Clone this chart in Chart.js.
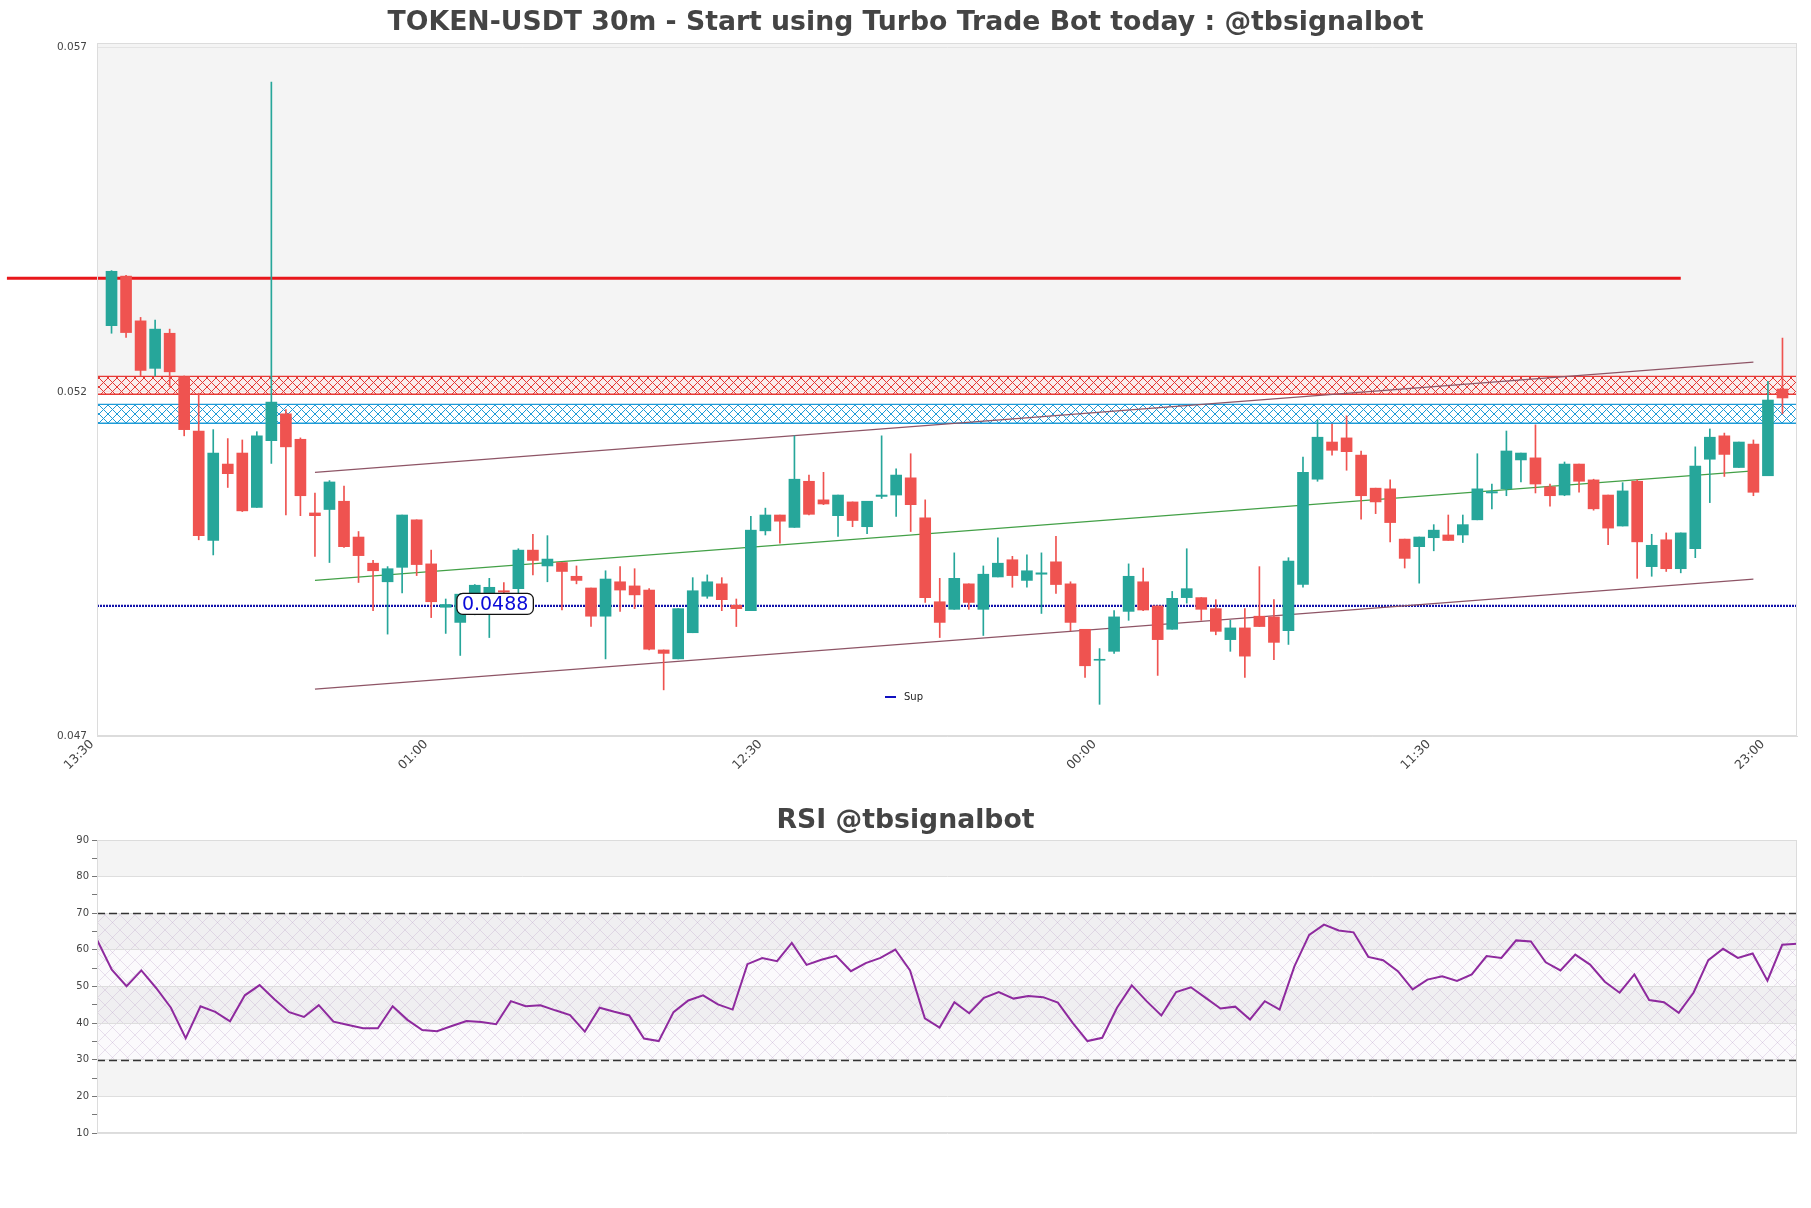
<!DOCTYPE html>
<html>
<head>
<meta charset="utf-8">
<script src="https://cdn.jsdelivr.net/npm/chart.js@4.4.1/dist/chart.umd.min.js"></script>
<style>
  body { margin: 0; background: #fff; }
  #wrap { position: relative; width: 1811px; height: 1208px; }
  #priceChart { position: absolute; left: 0; top: 0; }
  #rsiChart { position: absolute; left: 0; top: 780px; }
</style>
</head>
<body>
<div id="wrap">
  <canvas id="priceChart" width="1811" height="780"></canvas>
  <canvas id="rsiChart" width="1811" height="428"></canvas>
</div>
<script>
// x positions are candle indexes, 0 = 13:30 (one bar before the first candle)
const tickIndex = [0, 23, 46, 69, 92, 115];
const tickLabels = ['13:30', '01:00', '12:30', '00:00', '11:30', '23:00'];
const priceTicks = [0.047, 0.052, 0.057];

const opens = [
  0.05296, 0.05368, 0.05303, 0.05234, 0.05285, 0.05222, 0.05143, 0.04984, 0.05095, 0.05111,
  0.05032, 0.05129, 0.05168, 0.05131, 0.05024, 0.05029, 0.05041, 0.04989, 0.04951, 0.04924,
  0.04945, 0.05014, 0.04950, 0.04887, 0.04865, 0.04905, 0.04907, 0.04911, 0.04914, 0.04970,
  0.04947, 0.04952, 0.04932, 0.04915, 0.04874, 0.04924, 0.04918, 0.04912, 0.04825, 0.04812,
  0.04850, 0.04903, 0.04921, 0.04890, 0.04882, 0.04998, 0.05021, 0.05003, 0.05070, 0.05043,
  0.05020, 0.05040, 0.05004, 0.05048, 0.05050, 0.05075, 0.05017, 0.04895, 0.04884, 0.04921,
  0.04884, 0.04931, 0.04956, 0.04926, 0.04935, 0.04953, 0.04921, 0.04855, 0.04810, 0.04823,
  0.04881, 0.04924, 0.04889, 0.04855, 0.04901, 0.04901, 0.04885, 0.04840, 0.04857, 0.04874,
  0.04873, 0.04853, 0.04920, 0.05073, 0.05127, 0.05133, 0.05108, 0.05060, 0.05059, 0.04986,
  0.04975, 0.04988, 0.04992, 0.04992, 0.05014, 0.05053, 0.05059, 0.05101, 0.05104, 0.05062,
  0.05050, 0.05095, 0.05072, 0.05050, 0.05005, 0.05070, 0.04946, 0.04985, 0.04943, 0.04972,
  0.05102, 0.05136, 0.05090, 0.05124, 0.05078, 0.05204
];
const highs = [
  0.05376, 0.05369, 0.05308, 0.05304, 0.05291, 0.05223, 0.05198, 0.05145, 0.05132, 0.05130,
  0.05142, 0.05650, 0.05174, 0.05133, 0.05053, 0.05071, 0.05063, 0.04997, 0.04955, 0.04946,
  0.05021, 0.05014, 0.04970, 0.04899, 0.04907, 0.04920, 0.04929, 0.04923, 0.04972, 0.04993,
  0.04991, 0.04952, 0.04947, 0.04915, 0.04940, 0.04946, 0.04943, 0.04914, 0.04825, 0.04885,
  0.04930, 0.04934, 0.04930, 0.04899, 0.05019, 0.05031, 0.05021, 0.05136, 0.05079, 0.05083,
  0.05050, 0.05040, 0.05041, 0.05136, 0.05088, 0.05110, 0.05043, 0.04929, 0.04966, 0.04921,
  0.04947, 0.04988, 0.04961, 0.04963, 0.04966, 0.04990, 0.04924, 0.04855, 0.04827, 0.04882,
  0.04950, 0.04944, 0.04889, 0.04910, 0.04972, 0.04901, 0.04898, 0.04868, 0.04885, 0.04946,
  0.04898, 0.04959, 0.05105, 0.05159, 0.05153, 0.05165, 0.05114, 0.05060, 0.05072, 0.04986,
  0.04989, 0.05007, 0.05021, 0.05021, 0.05110, 0.05066, 0.05143, 0.05111, 0.05152, 0.05066,
  0.05098, 0.05095, 0.05073, 0.05050, 0.05068, 0.05072, 0.04993, 0.04995, 0.04995, 0.05120,
  0.05146, 0.05140, 0.05127, 0.05130, 0.05215, 0.05278
];
const lows = [
  0.05285, 0.05279, 0.05223, 0.05223, 0.05207, 0.05136, 0.04985, 0.04963, 0.05061, 0.05026,
  0.05032, 0.05096, 0.05021, 0.05020, 0.04961, 0.04952, 0.04974, 0.04923, 0.04882, 0.04848,
  0.04908, 0.04933, 0.04872, 0.04849, 0.04817, 0.04876, 0.04843, 0.04905, 0.04907, 0.04934,
  0.04924, 0.04883, 0.04921, 0.04859, 0.04812, 0.04881, 0.04885, 0.04825, 0.04767, 0.04812,
  0.04850, 0.04900, 0.04882, 0.04859, 0.04882, 0.04992, 0.04980, 0.05003, 0.05021, 0.05036,
  0.04990, 0.05004, 0.04994, 0.05045, 0.05019, 0.04997, 0.04894, 0.04843, 0.04884, 0.04884,
  0.04846, 0.04931, 0.04916, 0.04916, 0.04878, 0.04907, 0.04853, 0.04785, 0.04746, 0.04820,
  0.04868, 0.04882, 0.04788, 0.04855, 0.04893, 0.04868, 0.04847, 0.04823, 0.04785, 0.04859,
  0.04811, 0.04833, 0.04916, 0.05070, 0.05108, 0.05086, 0.05015, 0.05023, 0.04982, 0.04944,
  0.04922, 0.04969, 0.04984, 0.04981, 0.05014, 0.05030, 0.05049, 0.05069, 0.05053, 0.05034,
  0.05049, 0.05054, 0.05028, 0.04978, 0.05005, 0.04929, 0.04932, 0.04939, 0.04937, 0.04959,
  0.05039, 0.05077, 0.05090, 0.05049, 0.05078, 0.05168
];
const closes = [
  0.05375, 0.05286, 0.05231, 0.05291, 0.05229, 0.05145, 0.04991, 0.05111, 0.05081, 0.05027,
  0.05136, 0.05185, 0.05120, 0.05049, 0.05020, 0.05069, 0.04975, 0.04962, 0.04940, 0.04943,
  0.05021, 0.04949, 0.04895, 0.04891, 0.04906, 0.04919, 0.04916, 0.04909, 0.04970, 0.04955,
  0.04957, 0.04939, 0.04926, 0.04874, 0.04928, 0.04912, 0.04905, 0.04826, 0.04820, 0.04885,
  0.04911, 0.04924, 0.04898, 0.04885, 0.04999, 0.05021, 0.05012, 0.05073, 0.05022, 0.05037,
  0.05050, 0.05013, 0.05041, 0.05050, 0.05079, 0.05036, 0.04901, 0.04865, 0.04929, 0.04894,
  0.04935, 0.04951, 0.04933, 0.04940, 0.04937, 0.04920, 0.04865, 0.04802, 0.04811, 0.04873,
  0.04932, 0.04883, 0.04840, 0.04900, 0.04914, 0.04884, 0.04852, 0.04857, 0.04816, 0.04859,
  0.04836, 0.04954, 0.05083, 0.05134, 0.05115, 0.05113, 0.05049, 0.05040, 0.05010, 0.04958,
  0.04989, 0.04999, 0.04984, 0.05007, 0.05059, 0.05055, 0.05114, 0.05111, 0.05066, 0.05049,
  0.05095, 0.05070, 0.05030, 0.05002, 0.05056, 0.04982, 0.04977, 0.04943, 0.04995, 0.05092,
  0.05134, 0.05109, 0.05127, 0.05054, 0.05188, 0.05191
];

const rsi = [
  62.8, 54.6, 50.1, 54.4, 49.6, 44.2, 35.9, 44.6, 43.1, 40.5,
  47.6, 50.4, 46.5, 43.0, 41.7, 44.9, 40.4, 39.5, 38.6, 38.6,
  44.6, 40.9, 38.1, 37.8, 39.2, 40.6, 40.3, 39.7, 46.0, 44.6,
  44.9, 43.5, 42.2, 37.7, 44.2, 43.1, 42.1, 35.8, 35.1, 43.0,
  46.2, 47.6, 45.1, 43.7, 56.1, 57.8, 56.9, 61.9, 55.9, 57.3,
  58.4, 54.2, 56.4, 57.8, 60.1, 54.4, 41.3, 38.8, 45.7, 42.7,
  46.9, 48.5, 46.7, 47.4, 47.1, 45.6, 40.1, 35.1, 36.0, 44.2,
  50.3, 46.0, 42.1, 48.5, 49.8, 46.9, 44.0, 44.5, 41.0, 46.0,
  43.7, 55.5, 64.1, 66.9, 65.3, 64.8, 58.1, 57.2, 54.2, 49.2,
  51.9, 52.8, 51.5, 53.3, 58.3, 57.8, 62.6, 62.3, 56.6, 54.4,
  58.7, 56.0, 51.3, 48.3, 53.3, 46.3, 45.7, 42.8, 48.3, 57.2,
  60.3, 57.8, 59.0, 51.6, 61.4, 61.7
];

const resistance = 0.05365;
const resistanceSpan = [-6.2, 109];
const redZone = [0.051964, 0.052225];
const blueZone = [0.051543, 0.051818];
const supLevel = 0.04889;
const supText = '0.0488';
const channelSpan = [15, 114];
const channelUpper = [0.05083, 0.05243];
const channelMid = [0.04926, 0.05085];
const channelLower = [0.04768, 0.04928];
const rsiLevels = [70, 30];

const UP = '#26a69a';
const DOWN = '#ef5350';
const FONT = 'DejaVu Sans';

function hatch(color, size, bg, width) {
  const c = document.createElement('canvas');
  c.width = size; c.height = size;
  const g = c.getContext('2d');
  if (bg) { g.fillStyle = bg; g.fillRect(0, 0, size, size); }
  g.strokeStyle = color;
  g.lineWidth = width || 1;
  g.beginPath();
  g.moveTo(0, 0); g.lineTo(size, size);
  g.moveTo(size, 0); g.lineTo(0, size);
  g.stroke();
  return g.createPattern(c, 'repeat');
}

// alternate grey / white bands between major ticks
function drawBands(chart, majors, grey) {
  const {ctx, chartArea: a, scales: {y}} = chart;
  const vals = majors.slice().sort((p, q) => q - p);
  ctx.save();
  ctx.fillStyle = grey;
  for (let i = 0; i < vals.length - 1; i += 2) {
    const top = i === 0 ? a.top : y.getPixelForValue(vals[i]);
    const bot = y.getPixelForValue(vals[i + 1]);
    ctx.fillRect(a.left, top, a.width, bot - top);
  }
  ctx.restore();
}

function drawFrame(chart) {
  const {ctx, chartArea: a} = chart;
  ctx.save();
  ctx.strokeStyle = '#dcdcdc';
  ctx.lineWidth = 1;
  ctx.strokeRect(Math.round(a.left) + 0.5, Math.round(a.top) + 0.5, Math.round(a.width) - 1, Math.round(a.height) - 1);
  ctx.restore();
}

const pricePlugin = {
  id: 'priceDecor',
  beforeDraw(chart) {
    drawBands(chart, priceTicks, '#f4f4f4');
  },
  beforeDatasetsDraw(chart) {
    const {ctx, chartArea: a, scales: {y}} = chart;
    [[redZone, '#e53935', 'rgba(255,228,228,0.45)'], [blueZone, '#1e9bd7', null]].forEach(([z, col, bg]) => {
      const top = y.getPixelForValue(z[1]);
      const bot = y.getPixelForValue(z[0]);
      ctx.save();
      ctx.fillStyle = hatch(col, 9, bg, 1);
      ctx.fillRect(a.left, top, a.width, bot - top);
      ctx.strokeStyle = col;
      ctx.lineWidth = 1.3;
      ctx.beginPath();
      ctx.moveTo(a.left, top); ctx.lineTo(a.right, top);
      ctx.moveTo(a.left, bot); ctx.lineTo(a.right, bot);
      ctx.stroke();
      ctx.restore();
    });
  },
  afterDatasetsDraw(chart) {
    const {ctx, chartArea: a, scales: {x, y}} = chart;
    // level label
    ctx.save();
    ctx.font = '19px ' + FONT;
    const tw = ctx.measureText(supText).width;
    const cx = x.getPixelForValue(27.4);
    const cy = y.getPixelForValue(supLevel);
    const w = tw + 10, h = 21;
    ctx.beginPath();
    ctx.roundRect(cx - w / 2, cy - h / 2 - 2, w, h, 6);
    ctx.fillStyle = '#fff';
    ctx.fill();
    ctx.strokeStyle = '#111';
    ctx.lineWidth = 1.3;
    ctx.stroke();
    ctx.fillStyle = '#0a0ad8';
    ctx.textAlign = 'center';
    ctx.textBaseline = 'middle';
    ctx.fillText(supText, cx, cy - 1);
    // legend
    const lx = a.left + 788, ly = a.bottom - 39;
    ctx.strokeStyle = '#1010c0';
    ctx.lineWidth = 2;
    ctx.beginPath(); ctx.moveTo(lx, ly); ctx.lineTo(lx + 11, ly); ctx.stroke();
    ctx.font = '10px ' + FONT;
    ctx.fillStyle = '#222';
    ctx.textAlign = 'left';
    ctx.fillText(chart.data.datasets[2].label, lx + 19, ly);
    ctx.restore();
  },
  afterDraw: drawFrame
};

const rsiPlugin = {
  id: 'rsiDecor',
  beforeDraw(chart) {
    drawBands(chart, [90, 80, 70, 60, 50, 40, 30, 20, 10], '#f4f4f4');
    const {ctx, chartArea: a, scales: {y}} = chart;
    const top = y.getPixelForValue(rsiLevels[0]);
    const bot = y.getPixelForValue(rsiLevels[1]);
    ctx.save();
    ctx.fillStyle = 'rgba(170,150,190,0.05)';
    ctx.fillRect(a.left, top, a.width, bot - top);
    ctx.fillStyle = hatch('rgba(185,160,200,0.4)', 15, null, 0.8);
    ctx.fillRect(a.left, top, a.width, bot - top);
    ctx.restore();
  },
  beforeDatasetsDraw(chart) {
    const {ctx, chartArea: a, scales: {y}} = chart;
    ctx.save();
    ctx.strokeStyle = '#333';
    ctx.lineWidth = 1.3;
    ctx.setLineDash([8, 4]);
    rsiLevels.forEach(v => {
      const py = Math.round(y.getPixelForValue(v)) + 0.5;
      ctx.beginPath(); ctx.moveTo(a.left, py); ctx.lineTo(a.right, py); ctx.stroke();
    });
    ctx.restore();
  },
  afterDraw: drawFrame
};

const idx = opens.map((o, i) => i + 1);
const bodies = idx.map((xi, i) => ({x: xi, y: [opens[i], closes[i]]}));
const wicks = idx.map((xi, i) => ({x: xi, y: [lows[i], highs[i]]}));
const candleColor = ctx => closes[ctx.dataIndex] >= opens[ctx.dataIndex] ? UP : DOWN;
const seg = (span, vals) => [{x: span[0], y: vals[0]}, {x: span[1], y: vals[1]}];

new Chart(document.getElementById('priceChart'), {
  type: 'bar',
  data: {
    datasets: [
      {label: 'body', data: bodies, backgroundColor: candleColor, barThickness: 11, minBarLength: 1,
       grouped: false, borderWidth: 0, order: 0},
      {label: 'wick', data: wicks, backgroundColor: candleColor, barThickness: 1, grouped: false,
       borderWidth: 0, order: 1},
      {type: 'line', label: 'Sup', data: seg([0, 117], [supLevel, supLevel]), borderColor: '#1212aa',
       borderWidth: 2.4, borderDash: [2, 1], pointRadius: 0, order: 3},
      {type: 'line', label: 'res', data: seg(resistanceSpan, [resistance, resistance]), borderColor: '#e8171b',
       borderWidth: 3, pointRadius: 0, clip: false, order: 3},
      {type: 'line', label: 'up', data: seg(channelSpan, channelUpper), borderColor: '#8e5566',
       borderWidth: 1.2, pointRadius: 0, order: 2},
      {type: 'line', label: 'mid', data: seg(channelSpan, channelMid), borderColor: '#43a047',
       borderWidth: 1.2, pointRadius: 0, order: 2},
      {type: 'line', label: 'low', data: seg(channelSpan, channelLower), borderColor: '#8e5566',
       borderWidth: 1.2, pointRadius: 0, order: 2}
    ]
  },
  options: {
    responsive: false,
    animation: false,
    layout: {padding: {left: 14, right: 14, top: 0, bottom: 0}},
    plugins: {
      legend: {display: false},
      tooltip: {enabled: false},
      title: {
        display: true,
        text: 'TOKEN-USDT 30m - Start using Turbo Trade Bot today : @tbsignalbot',
        color: '#444',
        font: {family: FONT, size: 26.7, weight: 'bold'},
        padding: {top: 7, bottom: 4}
      }
    },
    scales: {
      x: {
        type: 'linear',
        min: 0,
        max: 117,
        offset: false,
        grid: {display: false, drawTicks: false},
        border: {color: '#dcdcdc'},
        afterBuildTicks: s => { s.ticks = tickIndex.map(v => ({value: v})); },
        afterFit: s => { s.height = 44; },
        ticks: {
          autoSkip: false,
          minRotation: 45,
          maxRotation: 45,
          padding: 1,
          labelOffset: -5,
          color: '#444',
          font: {family: FONT, size: 12.5},
          callback: (v, i) => tickLabels[i]
        }
      },
      y: {
        min: 0.047,
        max: 0.0570654,
        grid: {color: '#e4e4e4', drawTicks: false},
        border: {color: '#dcdcdc'},
        afterBuildTicks: s => { s.ticks = priceTicks.map(v => ({value: v})); },
        afterFit: s => { s.width = 83; },
        ticks: {
          padding: 10,
          color: '#444',
          font: {family: FONT, size: 10.5},
          callback: v => v.toFixed(3)
        }
      }
    }
  },
  plugins: [pricePlugin]
});

new Chart(document.getElementById('rsiChart'), {
  type: 'line',
  data: {
    datasets: [{
      label: 'RSI',
      data: rsi.map((v, i) => ({x: i, y: v})),
      borderColor: '#8e2a9e',
      borderWidth: 2,
      pointRadius: 0,
      tension: 0
    }]
  },
  options: {
    responsive: false,
    animation: false,
    layout: {padding: {left: 14, right: 14, top: 0, bottom: 75}},
    plugins: {
      legend: {display: false},
      tooltip: {enabled: false},
      title: {
        display: true,
        text: 'RSI @tbsignalbot',
        color: '#444',
        font: {family: FONT, size: 26.7, weight: 'bold'},
        padding: {top: 25, bottom: 3}
      }
    },
    scales: {
      x: {type: 'linear', min: 0, max: rsi.length - 1, display: false},
      y: {
        min: 10,
        max: 90,
        border: {color: '#dcdcdc'},
        grid: {
          color: c => c.tick.value % 10 === 0 ? '#dedede' : 'rgba(0,0,0,0)',
          tickColor: '#777',
          tickLength: 5
        },
        afterFit: s => { s.width = 83; },
        ticks: {
          stepSize: 5,
          padding: 3,
          color: '#444',
          font: {family: FONT, size: 10},
          callback: v => v % 10 === 0 ? v : ''
        }
      }
    }
  },
  plugins: [rsiPlugin]
});
</script>
</body>
</html>
